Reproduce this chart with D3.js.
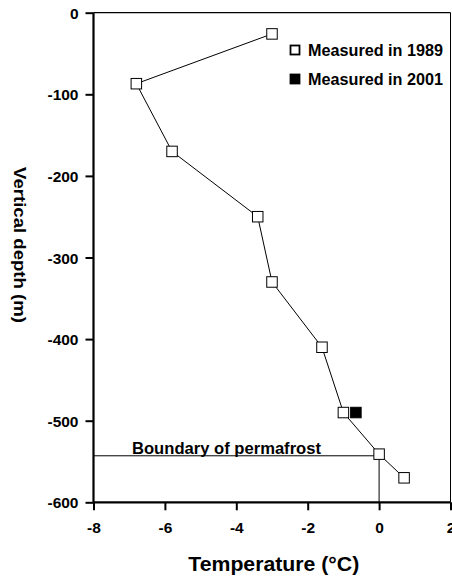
<!DOCTYPE html>
<html><head><meta charset="utf-8">
<script src="https://cdn.jsdelivr.net/npm/d3@7"></script>
<style>
body{margin:0;background:#fff;}
text{font-family:"Liberation Sans",Arial,sans-serif;font-weight:bold;fill:#000;}
</style></head>
<body>
<script>
const temp1989 = [-3.0, -6.8, -5.8, -3.4, -3.0, -1.6, -1.0, 0.0, 0.7];
const depth1989 = [-26, -87, -170, -250, -330, -410, -490, -541, -570];
const temp2001 = [-0.65];
const depth2001 = [-490];
const xTicks = [-8, -6, -4, -2, 0, 2];
const yTicks = [0, -100, -200, -300, -400, -500, -600];
const boundaryDepth = -543;
const boundaryTemp = 0;
const legendLabels = ["Measured in 1989", "Measured in 2001"];

const W = 452, H = 578;
const svg = d3.select("body").append("svg").attr("width", W).attr("height", H);
const x = d3.scaleLinear().domain([-8, 2]).range([93.5, 450.5]);
const y = d3.scaleLinear().domain([0, -600]).range([12.7, 502.3]);

// frame top/right
svg.append("line").attr("x1", x(-8)).attr("x2", x(2)).attr("y1", y(0)).attr("y2", y(0)).attr("stroke", "#000").attr("stroke-width", 1.3);
svg.append("line").attr("x1", x(2)).attr("x2", x(2)).attr("y1", y(0)).attr("y2", y(-600)).attr("stroke", "#000").attr("stroke-width", 1);

// boundary
svg.append("line").attr("x1", x(-8)).attr("x2", x(boundaryTemp)).attr("y1", y(boundaryDepth)).attr("y2", y(boundaryDepth)).attr("stroke", "#000").attr("stroke-width", 1);
svg.append("line").attr("x1", x(boundaryTemp)).attr("x2", x(boundaryTemp)).attr("y1", y(boundaryDepth)).attr("y2", y(-600)).attr("stroke", "#000").attr("stroke-width", 1);
svg.append("text").attr("x", 132).attr("y", y(boundaryDepth) - 1.5).attr("font-size", 16)
  .attr("textLength", 189).attr("lengthAdjust", "spacingAndGlyphs").text("Boundary of permafrost");

// axes
const fmt = d => String(d);
const xAxis = svg.append("g").attr("transform", `translate(0,${y(-600)})`)
  .call(d3.axisBottom(x).tickValues(xTicks).tickSize(8).tickPadding(12).tickFormat(fmt));
const yAxis = svg.append("g").attr("transform", `translate(${x(-8)},0)`)
  .call(d3.axisLeft(y).tickValues(yTicks).tickSize(8).tickPadding(7).tickFormat(fmt));
[xAxis, yAxis].forEach(g => {
  g.select(".domain").remove();
  g.selectAll(".tick line").attr("stroke-width", 2);
  g.selectAll("text").attr("font-size", 15.5).attr("font-family", "Liberation Sans, Arial, sans-serif").attr("font-weight", "bold");
});
yAxis.selectAll("text").attr("dy", "0.36em");
xAxis.selectAll("text").attr("dy", "0.72em");
svg.append("line").attr("x1", x(-8)).attr("x2", x(2)).attr("y1", y(-600)).attr("y2", y(-600)).attr("stroke", "#000").attr("stroke-width", 2.2);
svg.append("line").attr("x1", x(-8)).attr("x2", x(-8)).attr("y1", y(0)).attr("y2", y(-600)).attr("stroke", "#000").attr("stroke-width", 2.2);

// line
const pts = temp1989.map((t, i) => [t, depth1989[i]]);
svg.append("path").datum(pts)
  .attr("d", d3.line().x(d => x(d[0])).y(d => y(d[1])))
  .attr("fill", "none").attr("stroke", "#000").attr("stroke-width", 1);

const S = 10.5;
svg.selectAll(".m89").data(pts).enter().append("rect")
  .attr("x", d => x(d[0]) - S / 2).attr("y", d => y(d[1]) - S / 2)
  .attr("width", S).attr("height", S).attr("fill", "#fff").attr("stroke", "#000").attr("stroke-width", 1);
svg.selectAll(".m01").data(temp2001.map((t, i) => [t, depth2001[i]])).enter().append("rect")
  .attr("x", d => x(d[0]) - S / 2).attr("y", d => y(d[1]) - S / 2)
  .attr("width", S).attr("height", S).attr("fill", "#000").attr("stroke", "#000").attr("stroke-width", 1);

// legend
const lg = svg.append("g");
legendLabels.forEach((l, i) => {
  const cy = 50 + i * 29;
  lg.append("rect").attr("x", 290.5).attr("y", cy - 4.5).attr("width", 9).attr("height", 9)
    .attr("fill", i === 0 ? "#fff" : "#000").attr("stroke", "#000").attr("stroke-width", 1.8);
  lg.append("text").attr("x", 308).attr("y", cy).attr("dy", "0.36em").attr("font-size", 16)
    .attr("textLength", 135).attr("lengthAdjust", "spacingAndGlyphs").text(l);
});

// axis titles
svg.append("text").attr("x", 273.8).attr("y", 571).attr("text-anchor", "middle").attr("font-size", 20)
  .attr("textLength", 171).attr("lengthAdjust", "spacingAndGlyphs").text("Temperature (°C)");
svg.append("text").attr("transform", "translate(20,245) rotate(90)").attr("text-anchor", "middle").attr("dy", "0.36em").attr("font-size", 17)
  .attr("textLength", 156).attr("lengthAdjust", "spacingAndGlyphs").text("Vertical depth (m)");
</script>
</body></html>
